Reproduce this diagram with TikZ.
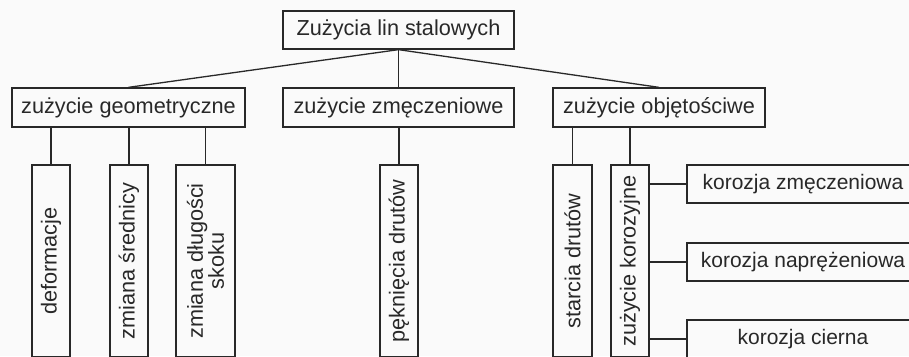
\documentclass[tikz,border=0pt]{standalone}
\usepackage{fontspec}
\setmainfont{Liberation Sans}
\usetikzlibrary{calc}
\definecolor{inkgray}{RGB}{40,40,40}
\definecolor{paper}{RGB}{250,250,250}
\tikzset{
  box/.style={draw=inkgray, line width=1.3pt, text=inkgray, inner sep=0pt,
    font=\fontsize{21.7}{21}\selectfont, minimum height=38pt},
  vbox/.style={box, rotate=90, minimum width=192pt, align=center},
  rbox/.style={box, minimum width=232pt, font=\fontsize{21}{21}\selectfont},
  link/.style={draw=inkgray, line width=1.3pt}
}

\begin{document}
\begin{tikzpicture}[x=1pt,y=1pt]
			%%%%% START %%%%%
			
			\fill[paper] (0, 0) rectangle (909, 356);
			\begin{scope}
			\clip (0, 0) rectangle (909, 356);
			
			\node[box, minimum width=231pt] (root) at (398.5, 326) {Zużycia lin stalowych};
			
			\node[box, minimum width=233pt, minimum height=39pt] (geo) at (128.5, 248.5) {zużycie geometryczne};
			\node[box, minimum width=231pt, minimum height=39pt] (zme) at (398.5, 248.5) {zużycie zmęczeniowe};
			\node[box, minimum width=212pt, minimum height=39pt] (obj) at (659, 248.5) {zużycie objętościwe};
			
			\node[vbox] (def) at (51, 95) {deformacje};
			\node[vbox] (sre) at (129, 95) {zmiana średnicy};
			\node[vbox, minimum height=59pt] (sko) at (205.5, 95) {zmiana długości\\skoku};
			\node[vbox] (pek) at (399, 95) {pęknięcia drutów};
			\node[vbox, minimum height=39pt] (sta) at (572.5, 95) {starcia drutów};
			\node[vbox] (kor) at (630, 95) {zużycie korozyjne};
			
			\node[rbox] (kzm) at (803, 172) {korozja zmęczeniowa};
			\node[rbox] (kna) at (803, 94) {korozja naprężeniowa};
			\node[rbox] (kci) at (803, 17) {korozja cierna};
			
			\draw[link] (root.south) -- (geo.north);
			\draw[link] (root.south) -- (zme.north);
			\draw[link] (root.south) -- (obj.north);
			
			\draw[link] (def.east) -- (def.east |- geo.south);
			\draw[link] (sre.east) -- (sre.east |- geo.south);
			\draw[link] (sko.east) -- (sko.east |- geo.south);
			\draw[link] (pek.east) -- (pek.east |- zme.south);
			\draw[link] (sta.east) -- (sta.east |- obj.south);
			\draw[link] (kor.east) -- (kor.east |- obj.south);
			
			\draw[link] (kzm.west) -- (kzm.west -| kor.south);
			\draw[link] (kna.west) -- (kna.west -| kor.south);
			\draw[link] (kci.west) -- (kci.west -| kor.south);
			\end{scope}
			\useasboundingbox (0, 0) rectangle (909, 356);
			
			%%%%% END %%%%%
		\end{tikzpicture}
\end{document}
